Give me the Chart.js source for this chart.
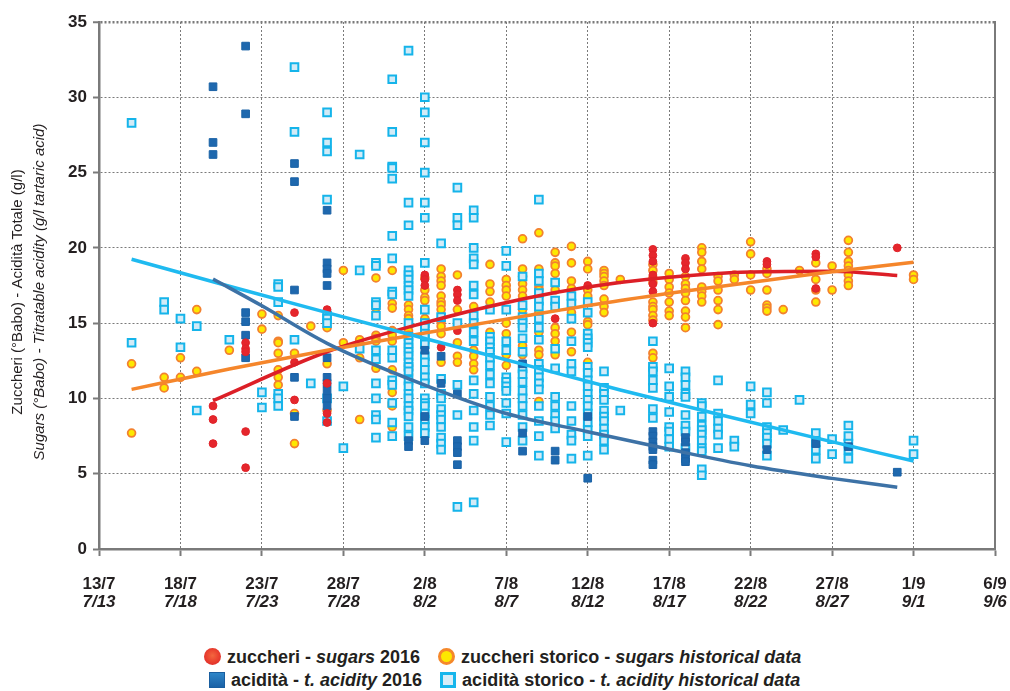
<!DOCTYPE html>
<html>
<head>
<meta charset="utf-8">
<script src="https://cdn.jsdelivr.net/npm/chart.js@4.4.1/dist/chart.umd.min.js"></script>
<style>
body { margin: 0; background: #fff; width: 1010px; height: 691px; overflow: hidden; position: relative;
       font-family: "Liberation Sans", Arial, sans-serif; color: #231f20; }
#wrap { position: absolute; left: 0; top: 0; width: 1010px; height: 630px; }
.row { position: absolute; font-weight: bold; font-size: 18px; white-space: nowrap; line-height: 22px; }
.row i { font-style: italic; }
.ic { display: inline-block; vertical-align: -2px; box-sizing: border-box; width: 17px; height: 17px; margin-right: 6px; }
.gap { display: inline-block; width: 18px; }
.red { border-radius: 50%; background: radial-gradient(circle at 50% 45%, #f3673f 0, #eb4430 45%, #d71f27 100%); }
.org { border-radius: 50%; background: #fde800; border: 3px solid #f5882b; }
.dbl { width: 16px; height: 16px; background: linear-gradient(#2f86c8, #1b62a6); border: 1px solid #1a5e9f; }
.lbl { width: 16px; height: 16px; background: #d7edf8; border: 3px solid #17b6ec; }
</style>
</head>
<body>
<div id="wrap"><canvas id="chart" width="1010" height="630"></canvas></div>
<div class="row" style="left:204px;top:646px"><span class="ic red"></span>zuccheri - <i>sugars</i> 2016<span class="gap"></span><span class="ic org"></span>zuccheri storico - <i>sugars historical data</i></div>
<div class="row" style="left:209px;top:669px"><span class="ic dbl"></span>acidità - <i>t. acidity</i> 2016<span class="gap"></span><span class="ic lbl"></span>acidità storico - <i>t. acidity historical data</i></div>
<script>
// days counted from 13/7
var xTicksIt = ['13/7', '18/7', '23/7', '28/7', '2/8', '7/8', '12/8', '17/8', '22/8', '27/8', '1/9', '6/9'];
var xTicksEn = ['7/13', '7/18', '7/23', '7/28', '8/2', '8/7', '8/12', '8/17', '8/22', '8/27', '9/1', '9/6'];

// [day, [values]]
var sugars2016 = [
    [7, [9.5, 8.6, 7.0]],
    [9, [13.7, 13.3, 13.1, 7.8, 5.4]],
    [12, [15.7, 12.4, 9.9]],
    [14, [15.9, 11.0, 9.0, 8.4]],
    [20, [18.2, 17.9, 17.5]],
    [21, [13.4]],
    [22, [17.2, 16.9, 16.5, 14.5]],
    [28, [15.3]],
    [30, [17.5]],
    [34, [19.9, 19.5, 19.1, 18.2, 17.6, 17.1, 15.0]],
    [36, [19.3, 19.0, 18.6]],
    [41, [19.1, 18.9]],
    [44, [19.6, 19.4, 17.3]],
    [49, [20.0]]
];

var acidity2016 = [
    [7, [30.7, 27.0, 26.2]],
    [9, [33.4, 28.9, 15.7, 15.1, 14.2, 12.7]],
    [12, [25.6, 24.4, 17.2, 11.4, 8.8]],
    [14, [22.5, 19.0, 18.6, 18.3, 17.5, 12.7, 11.4, 11.0, 10.5, 10.0, 9.5]],
    [19, [7.2, 6.8]],
    [20, [13.2, 8.8, 7.2]],
    [21, [12.8, 11.0]],
    [22, [10.3, 7.2, 6.8, 6.4, 5.6]],
    [26, [12.3, 7.7, 6.5]],
    [28, [6.5, 5.9]],
    [30, [8.8, 4.7]],
    [34, [7.8, 7.5, 7.1, 6.8, 6.6, 5.9, 5.6]],
    [36, [7.4, 7.1, 6.4, 6.0, 5.8]],
    [41, [6.6]],
    [44, [7.0]],
    [46, [6.8]],
    [49, [5.1]]
];

var sugarsHist = [
    [2, [12.3, 7.7]],
    [4, [11.4, 10.7]],
    [5, [12.7, 11.4]],
    [6, [15.9, 11.8]],
    [8, [13.2]],
    [10, [15.6, 14.6]],
    [11, [15.5, 13.8, 13.7, 13.0, 11.9, 11.4, 10.9]],
    [12, [13.0, 9.0, 7.0]],
    [13, [14.8]],
    [14, [14.7, 12.3, 9.2]],
    [15, [18.5, 13.7]],
    [16, [13.9, 12.7, 8.6]],
    [17, [18.0, 16.0, 14.2, 14.0, 13.8, 12.0]],
    [18, [18.5, 16.3, 16.0, 14.5, 14.2, 13.8, 11.9, 10.4, 9.7, 9.5, 8.1]],
    [19, [16.2, 15.9, 15.5, 15.3, 14.9, 14.5, 14.2, 12.2, 11.9, 11.6, 9.3]],
    [20, [18.0, 17.2, 16.7, 16.5, 15.3, 15.0, 13.7, 11.1]],
    [21, [18.6, 18.1, 17.8, 17.5, 16.8, 16.4, 16.2, 15.9, 15.1, 14.8, 14.3, 12.4]],
    [22, [18.2, 15.9, 13.7, 12.8, 12.4]],
    [23, [16.1, 13.2, 12.8, 12.3, 11.9]],
    [24, [18.9, 17.6, 17.1, 16.4, 14.4]],
    [25, [17.9, 17.5, 17.2, 16.8, 15.0, 14.3, 12.9, 12.2]],
    [26, [20.6, 18.6, 18.1, 17.6, 17.2, 16.8, 15.9, 13.5, 12.9]],
    [27, [21.0, 18.6, 17.4, 17.2, 15.7, 14.4, 13.2, 12.9, 9.8]],
    [28, [19.7, 19.0, 18.8, 18.3, 17.2, 14.7, 14.3, 13.8, 12.9]],
    [29, [20.1, 19.0, 17.8, 17.3, 15.7, 14.4, 13.1]],
    [30, [19.1, 18.6, 17.2, 16.8, 15.1, 14.9, 12.4]],
    [31, [18.5, 18.3, 18.1, 17.8, 17.5, 16.6, 16.1, 15.7]],
    [32, [17.9]],
    [34, [18.9, 18.5, 18.0, 17.7, 16.4, 16.1, 15.9, 15.5, 15.2, 13.0, 12.7]],
    [35, [18.3, 17.9, 17.4, 17.0, 16.4, 15.8, 15.5]],
    [36, [18.1, 17.6, 17.3, 17.0, 16.5, 15.8, 15.4, 14.7]],
    [37, [20.0, 19.7, 19.1, 18.6, 17.4, 17.1, 16.8, 16.4]],
    [38, [18.1, 17.8, 17.2, 16.5, 15.9, 14.9]],
    [39, [18.2, 17.9]],
    [40, [20.4, 19.6, 18.2, 17.2]],
    [41, [18.6, 18.3, 17.2, 16.2, 16.0, 15.8]],
    [42, [15.9]],
    [43, [18.5]],
    [44, [19.0, 17.9, 17.2, 16.4]],
    [45, [18.8, 17.2]],
    [46, [20.5, 19.7, 19.1, 18.8, 18.5, 18.2, 17.8, 17.5]],
    [50, [18.2, 17.9]]
];

var acidityHist = [
    [2, [28.3, 13.7]],
    [4, [16.4, 15.9]],
    [5, [15.3, 13.4]],
    [6, [14.8, 9.2]],
    [8, [13.9]],
    [10, [10.4, 9.4]],
    [11, [17.6, 17.4, 16.4, 10.3, 10.0, 9.5]],
    [12, [32.0, 27.7, 13.9]],
    [13, [11.0]],
    [14, [29.0, 27.0, 26.4, 23.2, 15.5, 15.3, 15.0, 10.0, 8.5]],
    [15, [10.8, 6.7]],
    [16, [26.2, 18.5, 13.3]],
    [17, [19.0, 18.8, 16.4, 16.2, 15.5, 13.2, 12.6, 11.0, 10.0, 8.9, 8.6, 7.4]],
    [18, [31.2, 27.7, 25.4, 25.3, 24.6, 20.8, 19.3, 17.1, 16.9, 13.2, 12.7, 11.2, 10.9, 9.7, 8.4, 7.5]],
    [19, [33.1, 23.0, 21.5, 18.5, 18.2, 17.9, 17.5, 17.2, 16.8, 15.0, 14.1, 13.7, 13.4, 13.1, 12.8,
          12.4, 12.1, 11.8, 11.2, 10.8, 10.3, 10.0, 9.5, 9.2, 8.8, 8.1, 7.5]],
    [20, [30.0, 29.0, 27.0, 25.0, 23.0, 22.0, 19.0, 15.9, 15.0, 14.7, 14.3, 14.1, 13.6, 12.8, 12.4,
          11.9, 11.4, 11.0, 10.0, 9.7, 9.5, 9.0, 8.6, 8.1, 7.7]],
    [21, [20.3, 15.4, 11.3, 10.3, 10.0, 9.3, 8.9, 8.6, 8.1, 7.4, 7.0, 6.6]],
    [22, [24.0, 22.0, 21.5, 15.0, 10.9, 8.9, 2.8]],
    [23, [22.5, 22.0, 20.0, 19.3, 18.9, 17.5, 16.9, 15.5, 15.0, 14.4, 13.8, 11.2, 10.3, 9.2, 8.1, 7.2, 3.1]],
    [24, [15.9, 14.1, 13.8, 13.4, 13.1, 12.7, 12.2, 11.6, 11.0, 10.1, 9.5, 8.9, 8.2]],
    [25, [19.8, 18.8, 15.9, 13.8, 13.2, 11.4, 11.1, 10.8, 10.5, 9.7, 9.0, 7.1]],
    [26, [18.1, 16.2, 15.4, 15.0, 14.7, 14.0, 13.1, 12.0, 11.6, 11.1, 10.5, 10.0, 9.5, 8.9, 8.1, 7.2]],
    [27, [23.2, 18.3, 17.8, 17.0, 16.5, 16.1, 15.3, 14.7, 13.9, 12.3, 11.9, 11.4, 11.0, 10.6, 9.5, 8.5, 7.5, 6.2]],
    [28, [17.7, 16.5, 16.1, 13.3, 12.0, 10.1, 9.5, 8.9, 8.5, 8.0]],
    [29, [16.8, 16.3, 15.3, 13.8, 12.3, 11.8, 9.5, 8.5, 7.6, 7.2, 6.0]],
    [30, [16.4, 15.7, 14.3, 14.0, 13.7, 13.4, 12.1, 11.7, 11.2, 10.8, 10.3, 9.9, 9.5, 9.0, 8.4, 7.9, 7.5, 6.2]],
    [31, [11.8, 10.7, 10.3, 9.9, 9.2, 8.8, 8.5, 8.0, 7.6, 7.2, 6.6]],
    [32, [9.2]],
    [34, [13.8, 12.1, 11.8, 11.2, 10.7, 9.3, 8.7]],
    [35, [12.0, 10.8, 10.1, 9.1, 8.1, 7.8, 7.3, 6.8]],
    [36, [11.8, 11.4, 10.9, 10.3, 10.1, 8.9, 8.2, 7.8, 6.7]],
    [37, [9.7, 9.5, 8.8, 8.2, 7.9, 7.6, 7.2, 6.7, 6.5, 5.3, 4.9]],
    [38, [11.2, 9.0, 8.5, 8.0, 7.6, 6.7]],
    [39, [7.2, 6.8]],
    [40, [10.8, 9.6, 9.0]],
    [41, [10.4, 9.7, 8.1, 7.7, 7.4, 7.0, 6.2]],
    [42, [7.9]],
    [43, [9.9]],
    [44, [7.7, 7.1, 6.6, 6.0]],
    [45, [7.3, 6.3]],
    [46, [8.2, 7.5, 7.0, 6.6, 6.0]],
    [50, [7.2, 6.3]]
];

// trend lines
var sugars2016TrendDays = [7, 14, 20, 26, 30, 34, 40, 45, 49];
var sugars2016Trend = [9.85, 13.1, 15.03, 16.6, 17.4, 17.95, 18.4, 18.45, 18.17];
var sugarsHistTrendDays = [2, 8, 14, 20, 26, 32, 38, 44, 50];
var sugarsHistTrend = [10.6, 11.95, 13.2, 14.35, 15.45, 16.5, 17.42, 18.28, 19.04];
var acidity2016TrendDays = [7, 10, 14, 20, 25, 30, 35, 40, 45, 49];
var acidity2016Trend = [17.93, 16.15, 13.66, 10.89, 9.0, 7.79, 6.62, 5.53, 4.69, 4.1];
var acidityHistTrendDays = [2, 8, 14, 20, 26, 32, 38, 44, 50];
var acidityHistTrend = [19.24, 17.45, 15.7, 13.98, 12.28, 10.56, 8.95, 7.38, 5.84];

function toPoints(cols) {
    var out = [];
    cols.forEach(function (c) {
        c[1].forEach(function (v) { out.push({x: c[0], y: v}); });
    });
    return out;
}

function toLine(days, vals) {
    return days.map(function (d, i) { return {x: d, y: vals[i]}; });
}

function trend(label, days, vals, color) {
    return {
        type: 'line', label: label, data: toLine(days, vals), order: 0,
        borderColor: color, borderWidth: 3.5, pointRadius: 0, fill: false,
        cubicInterpolationMode: 'monotone'
    };
}

var FONT = '"Liberation Sans", Arial, sans-serif';
var GRID = '#7a7a7a';

var extras = {
    id: 'extras',
    afterDraw: function (chart) {
        var ctx = chart.ctx, a = chart.chartArea, xs = chart.scales.x;
        ctx.save();
        ctx.strokeStyle = GRID;
        ctx.lineWidth = 2;
        ctx.beginPath();
        ctx.moveTo(a.right, a.top - 1);
        ctx.lineTo(a.right, a.bottom);
        ctx.stroke();

        ctx.fillStyle = '#231f20';
        ctx.textAlign = 'center';
        ctx.textBaseline = 'alphabetic';
        xTicksIt.forEach(function (t, i) {
            var x = xs.getPixelForValue(i * 5);
            ctx.font = 'bold 17px ' + FONT;
            ctx.fillText(t, x, a.bottom + 40);
            ctx.font = 'italic bold 17px ' + FONT;
            ctx.fillText(xTicksEn[i], x, a.bottom + 58);
        });

        ctx.translate(0, 292);
        ctx.rotate(-Math.PI / 2);
        ctx.font = '15px ' + FONT;
        ctx.fillText('Zuccheri (°Babo) - Acidità Totale (g/l)', 0, 22);
        ctx.font = 'italic 15px ' + FONT;
        ctx.fillText('Sugars (°Babo) - Titratable acidity (g/l tartaric acid)', 0, 44);
        ctx.restore();
    }
};

new Chart(document.getElementById('chart'), {
    type: 'scatter',
    data: {
        datasets: [
            trend('acidity 2016 trend', acidity2016TrendDays, acidity2016Trend, '#3d72a6'),
            trend('acidity historical trend', acidityHistTrendDays, acidityHistTrend, '#1fbaf0'),
            trend('sugars historical trend', sugarsHistTrendDays, sugarsHistTrend, '#f5862b'),
            trend('sugars 2016 trend', sugars2016TrendDays, sugars2016Trend, '#dc1f27'),
            {
                label: 'zuccheri - sugars 2016', data: toPoints(sugars2016), order: 1,
                pointStyle: 'circle', pointRadius: 3.9, borderWidth: 1,
                backgroundColor: '#e5262c', borderColor: '#e02228'
            },
            {
                label: 'acidità - t. acidity 2016', data: toPoints(acidity2016), order: 2,
                pointStyle: 'rect', pointRadius: 5.4, borderWidth: 1,
                backgroundColor: '#1e68ae', borderColor: '#1a62a6'
            },
            {
                label: 'acidità storico - t. acidity historical data', data: toPoints(acidityHist), order: 3,
                pointStyle: 'rect', pointRadius: 5.4, borderWidth: 2,
                backgroundColor: '#d2ebf7', borderColor: '#15b4ea'
            },
            {
                label: 'zuccheri storico - sugars historical data', data: toPoints(sugarsHist), order: 4,
                pointStyle: 'circle', pointRadius: 3.9, borderWidth: 1.8,
                backgroundColor: '#fde800', borderColor: '#f3812f'
            }
        ]
    },
    options: {
        responsive: false,
        animation: false,
        devicePixelRatio: 1,
        layout: {padding: {top: 22, right: 15, left: 0, bottom: 0}},
        plugins: {legend: {display: false}, tooltip: {enabled: false}},
        scales: {
            x: {
                type: 'linear', min: 0, max: 55,
                ticks: {display: false, stepSize: 5},
                grid: {color: GRID, lineWidth: 1, tickLength: 7, tickColor: GRID, tickWidth: 2},
                border: {display: true, color: GRID, width: 2.5, dash: [2, 2]},
                afterFit: function (s) { s.height = 81; }
            },
            y: {
                min: 0, max: 35,
                ticks: {stepSize: 5, padding: 6, color: '#231f20', font: {family: FONT, size: 17, weight: 'bold'}},
                grid: {
                    color: GRID, tickLength: 6, tickColor: GRID, tickWidth: 2,
                    lineWidth: function (c) { return c.tick && c.tick.value === 35 ? 2.5 : 1; }
                },
                border: {display: true, color: GRID, width: 2.5, dash: [2, 2]},
                afterFit: function (s) { s.width = 99; }
            }
        }
    },
    plugins: [extras]
});
</script>
</body>
</html>
